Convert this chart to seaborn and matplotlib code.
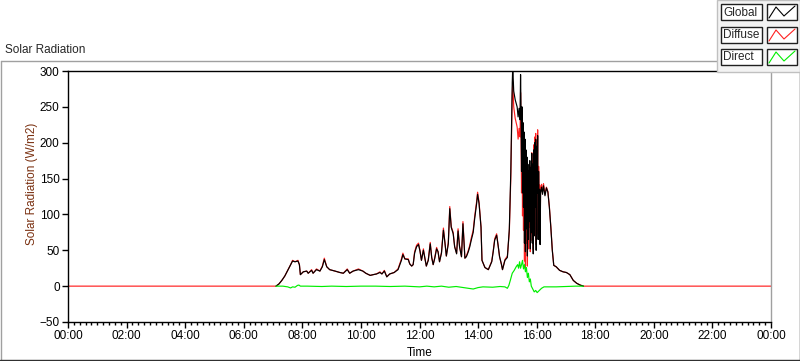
import numpy as np
import pandas as pd
import matplotlib
matplotlib.use("Agg")
import matplotlib.pyplot as plt
import matplotlib.dates as mdates
from matplotlib.lines import Line2D
from matplotlib.patches import Rectangle
import seaborn as sns

# === DATA ===
day_times = [
    "07:06", "07:12", "07:18", "07:24", "07:30", "07:36", "07:40", "07:45", "07:51", "07:54",
    "07:56", "08:02", "08:09", "08:12", "08:19", "08:22", "08:29", "08:36", "08:41", "08:45",
    "08:50", "08:56", "09:07", "09:17", "09:24", "09:32", "09:37", "09:44", "09:55", "10:04",
    "10:10", "10:19", "10:25", "10:32", "10:39", "10:43", "10:48", "10:53", "10:59", "11:08",
    "11:16", "11:23", "11:26", "11:30", "11:37", "11:40", "11:44", "11:47", "11:50", "11:54",
    "11:58", "12:01", "12:04", "12:08", "12:11", "12:14", "12:18", "12:22", "12:25", "12:28",
    "12:31", "12:35", "12:38", "12:41", "12:45", "12:49", "12:52", "12:55", "12:59", "13:02",
    "13:05", "13:09", "13:12", "13:16", "13:19", "13:22", "13:26", "13:29", "13:33", "13:36",
    "13:40", "13:43", "13:46", "13:50", "13:53", "13:57", "13:59", "14:02", "14:06", "14:08",
    "14:14", "14:21", "14:28", "14:31", "14:34", "14:38", "14:41", "14:44", "14:48", "14:50",
    "14:55", "15:00", "15:04", "15:07", "15:10", "15:11", "15:13", "15:16", "15:18", "15:20",
    "15:22", "15:24", "15:26", "15:27", "15:28", "15:29", "15:30", "15:31", "15:32", "15:33",
    "15:34", "15:35", "15:36", "15:37", "15:38", "15:39", "15:40", "15:41", "15:42", "15:43",
    "15:44", "15:45", "15:46", "15:47", "15:48", "15:49", "15:50", "15:51", "15:52", "15:53",
    "15:54", "15:55", "15:56", "15:57", "15:58", "15:59", "16:00", "16:01", "16:02", "16:03",
    "16:04", "16:05", "16:06", "16:07", "16:08", "16:10", "16:12", "16:14", "16:17", "16:20",
    "16:23", "16:26", "16:29", "16:32", "16:35", "16:40", "16:47", "16:54", "17:01", "17:08",
    "17:15", "17:22", "17:29", "17:36",
]

global_vals = [
    0, 3, 8, 14, 22, 30, 35, 34, 35, 30,
    16, 20, 21, 18, 22, 18, 23, 21, 27, 37,
    27, 23, 21, 19, 18, 23, 18, 21, 23, 21,
    18, 15, 16, 17, 19, 17, 21, 13, 17, 19,
    23, 36, 44, 38, 37, 31, 28, 30, 46, 55,
    58, 49, 36, 50, 39, 28, 36, 59, 40, 30,
    38, 52, 48, 34, 46, 78, 61, 42, 59, 108,
    82, 73, 55, 45, 77, 55, 41, 87, 39, 41,
    48, 55, 64, 75, 94, 115, 128, 115, 82, 36,
    26, 23, 34, 48, 64, 71, 57, 41, 30, 23,
    36, 40, 80, 159, 284, 305, 272, 260, 255, 250,
    236, 248, 232, 295, 245, 160, 250, 130, 228, 110,
    215, 60, 205, 48, 190, 80, 180, 42, 170, 65,
    160, 90, 175, 52, 165, 75, 185, 60, 170, 45,
    190, 70, 200, 110, 205, 50, 195, 130, 210, 65,
    160, 100, 135, 58, 130, 138, 128, 140, 126, 137,
    131, 110, 82, 50, 29, 27, 22, 20, 19, 16,
    8, 4, 1.5, 0,
]

diffuse_vals = [
    0, 3, 8, 14, 22, 30, 36, 34, 36, 30,
    16, 20, 21, 18, 23, 18, 24, 21, 28, 39,
    27, 23, 21, 19, 18, 24, 18, 21, 24, 21,
    18, 15, 16, 17, 20, 17, 22, 13, 17, 19,
    24, 38, 46, 38, 38, 31, 28, 30, 48, 57,
    60, 49, 36, 52, 39, 28, 37, 61, 40, 30,
    39, 54, 48, 34, 47, 81, 61, 42, 61, 111,
    83, 75, 55, 46, 80, 56, 41, 90, 39, 42,
    50, 57, 67, 78, 97, 118, 131, 117, 83, 36,
    26, 23, 35, 49, 66, 73, 57, 41, 30, 23,
    37, 42, 76, 150, 266, 285, 250, 234, 228, 222,
    205, 220, 208, 270, 215, 130, 218, 98, 195, 78,
    185, 35, 178, 25, 168, 60, 162, 28, 155, 52,
    150, 82, 168, 48, 162, 74, 186, 63, 175, 51,
    197, 78, 208, 119, 213, 58, 203, 138, 218, 72,
    167, 106, 141, 63, 135, 142, 131, 143, 128, 138,
    132, 111, 83, 51, 29, 27, 22, 20, 19, 16,
    8, 4, 1.5, 0,
]

# night-time diffuse readings (sensor at zero)
night_am_times = ["00:00", "03:00", "07:00"]
night_pm_times = ["18:00", "21:00", "24:00"]
night_vals = [0, 0, 0]

direct_times = [
    "07:06", "07:20", "07:30", "07:36", "07:40", "07:45", "07:50", "07:53", "07:56", "08:10",
    "08:40", "09:00", "09:30", "10:00", "10:30", "11:00", "11:30", "12:00", "12:15", "12:30",
    "12:45", "13:00", "13:15", "13:30", "13:40", "13:50", "14:00", "14:10", "14:30", "14:45",
    "14:55", "15:00", "15:03", "15:06", "15:10", "15:14", "15:18", "15:21", "15:23", "15:25",
    "15:27", "15:29", "15:31", "15:33", "15:35", "15:37", "15:39", "15:41", "15:43", "15:45",
    "15:47", "15:49", "15:52", "15:55", "15:58", "16:01", "16:04", "16:07", "16:10", "16:15",
    "16:25", "16:40", "17:00", "17:20", "17:36",
]
direct_vals = [
    0, 0, -1, -2.5, -1, -1.5, 1, 1.5, 0, 0,
    -0.5, 0, -0.5, 0, 0, -0.5, 0, -1, 0, -1,
    0, -1.5, -0.5, -2, -3, -4, -2, -1, -1.5, -0.5,
    -1, -3, 1, 8, 18, 22, 27, 30, 25, 34,
    25, 30, 36, 24, 30, 20, 26, 12, 18, 6,
    10, 0, -4, -8, -6, -9, -7, -5, -3, -1,
    -1, -1, -0.5, 0, 0,
]

y_ticks = [-50, 0, 50, 100, 150, 200, 250, 300]


def to_dt(times):
    base = pd.Timestamp("2020-01-01")
    out = []
    for t in times:
        h, m = t.split(":")
        out.append(base + pd.Timedelta(hours=int(h), minutes=int(m)))
    return out


df_global = pd.DataFrame({"Time": to_dt(day_times), "value": global_vals})
df_diffuse = pd.DataFrame({
    "Time": to_dt(night_am_times + day_times + night_pm_times),
    "value": night_vals + diffuse_vals + night_vals,
})
df_direct = pd.DataFrame({"Time": to_dt(direct_times), "value": direct_vals})

# === FIGURA ===
sns.set_style("white")
plt.rcParams["font.family"] = ["Liberation Sans", "DejaVu Sans"]
plt.rcParams["font.size"] = 8

W, H = 800, 361
fig = plt.figure(figsize=(W / 100, H / 100), dpi=100)
fig.patch.set_facecolor("white")


def fx(x):
    return x / W


def fy(y):
    return 1 - y / H


ax = fig.add_axes([fx(68), fy(322), fx(771) - fx(68), fy(71) - fy(322)])
ax.set_facecolor("white")

LW = 0.85
sns.lineplot(data=df_diffuse, x="Time", y="value", color="#ff2020", linewidth=LW,
             estimator=None, sort=False, ax=ax, zorder=2)
sns.lineplot(data=df_global, x="Time", y="value", color="black", linewidth=LW,
             estimator=None, sort=False, ax=ax, zorder=3)
sns.lineplot(data=df_direct, x="Time", y="value", color="#00ee00", linewidth=LW,
             estimator=None, sort=False, ax=ax, zorder=4)

ax.set_xlim(pd.Timestamp("2020-01-01"), pd.Timestamp("2020-01-02"))
ax.set_ylim(-50, 300)
ax.set_yticks(y_ticks)
ax.xaxis.set_major_locator(mdates.HourLocator(byhour=range(0, 24, 2)))
ax.xaxis.set_minor_locator(mdates.MinuteLocator(byminute=[0, 12, 24, 36, 48]))
ax.xaxis.set_major_formatter(mdates.DateFormatter("%H:%M"))

ax.tick_params(axis="both", which="major", direction="out", length=4, width=1,
               colors="black", labelsize=8.5, pad=2)
ax.tick_params(axis="x", which="minor", direction="out", length=2.5, width=1, colors="black")
ax.tick_params(axis="x", which="both", bottom=True)
ax.tick_params(axis="y", which="both", left=True)

for side in ["left", "bottom", "top"]:
    ax.spines[side].set_color("black")
    ax.spines[side].set_linewidth(1.0)
ax.spines["right"].set_color("#a0a0a0")
ax.spines["right"].set_linewidth(1.0)

ax.set_xlabel("Time", fontsize=8.5, color="black", labelpad=3)
ax.set_ylabel("Solar Radiation (W/m2)", fontsize=8.5, color="#7a3010")
ax.yaxis.set_label_coords(-0.043, 0.55)

# título del gráfico
fig.text(fx(5), fy(50), "Solar Radiation", fontsize=8.5, ha="left", va="center")

# marco exterior
fig.add_artist(Line2D([fx(0.5), fx(717)], [fy(61), fy(61)], color="#a0a0a0", lw=1))
fig.add_artist(Line2D([fx(0.5), fx(0.5)], [fy(61), fy(360)], color="#a0a0a0", lw=1))
fig.add_artist(Line2D([fx(0), fx(800)], [fy(360), fy(360)], color="#303030", lw=1))
fig.add_artist(Line2D([fx(799.5), fx(799.5)], [fy(72), fy(361)], color="#303030", lw=1))

# leyenda
fig.add_artist(Rectangle((fx(717), fy(72)), fx(83), fy(0) - fy(72), transform=fig.transFigure,
                         facecolor="#f3f3f3", edgecolor="#c0c0c0", lw=1, zorder=5))
legend_names = ["Global", "Diffuse", "Direct"]
legend_colors = ["black", "#ff2020", "#00ee00"]
legend_rows = [4, 27, 49]
for name, col, y0 in zip(legend_names, legend_colors, legend_rows):
    fig.add_artist(Rectangle((fx(721), fy(y0 + 16)), fx(41), fy(y0) - fy(y0 + 16),
                             transform=fig.transFigure, facecolor="white",
                             edgecolor="#202020", lw=1, zorder=6))
    fig.add_artist(Rectangle((fx(767), fy(y0 + 16)), fx(30), fy(y0) - fy(y0 + 16),
                             transform=fig.transFigure, facecolor="white",
                             edgecolor="#202020", lw=1, zorder=6))
    fig.text(fx(723), fy(y0 + 8.5), name, fontsize=8.5, ha="left", va="center", zorder=7)
    fig.add_artist(Line2D([fx(769), fx(776), fx(784), fx(795)],
                          [fy(y0 + 14), fy(y0 + 3), fy(y0 + 12), fy(y0 + 2)],
                          color=col, lw=0.8, zorder=7))

plt.savefig("out.png", dpi=100)
